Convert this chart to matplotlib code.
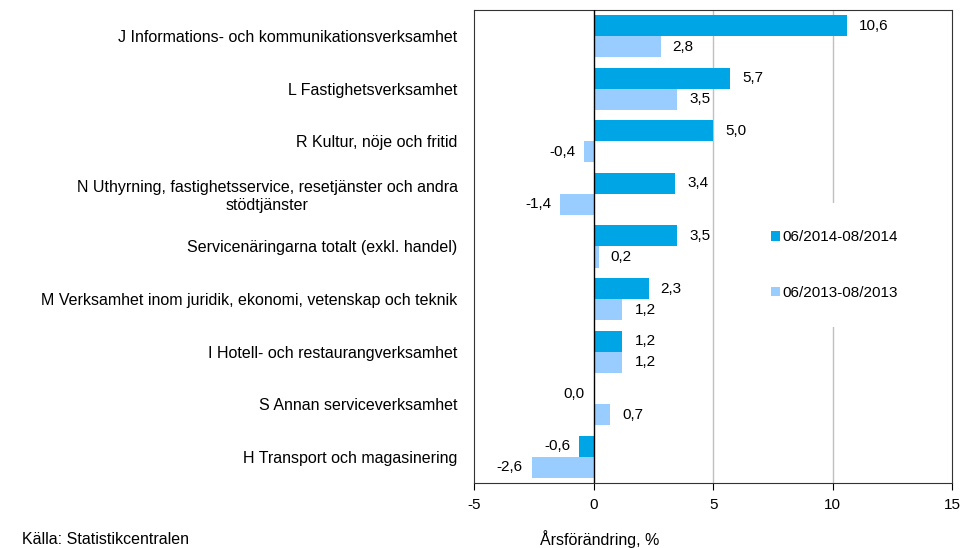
import matplotlib
matplotlib.use('Agg')
import matplotlib.pyplot as plt
import numpy as np

plt.rcParams['font.family'] = ['Liberation Sans', 'DejaVu Sans']

categories = [
    "J Informations- och kommunikationsverksamhet",
    "L Fastighetsverksamhet",
    "R Kultur, nöje och fritid",
    "N Uthyrning, fastighetsservice, resetjänster och andra\nstödtjänster",
    "Servicenäringarna totalt (exkl. handel)",
    "M Verksamhet inom juridik, ekonomi, vetenskap och teknik",
    "I Hotell- och restaurangverksamhet",
    "S Annan serviceverksamhet",
    "H Transport och magasinering",
]
series_names = ["06/2014-08/2014", "06/2013-08/2013"]
values_2014 = [10.6, 5.7, 5.0, 3.4, 3.5, 2.3, 1.2, 0.0, -0.6]
values_2013 = [2.8, 3.5, -0.4, -1.4, 0.2, 1.2, 1.2, 0.7, -2.6]

DARK = "#00a5e6"
LIGHT = "#99ccff"
FS = 11

fig = plt.figure(figsize=(9.6, 5.48), dpi=100)
ax = fig.add_axes([0.494, 0.1186, 0.498, 0.8632])

y = np.arange(len(categories))
h = 0.4
b1 = ax.barh(y - h / 2, values_2014, height=h, color=DARK, label=series_names[0], zorder=2)
b2 = ax.barh(y + h / 2, values_2013, height=h, color=LIGHT, label=series_names[1], zorder=2)

# value labels outside bar ends, decimal comma
for bars, vals in ((b1, values_2014), (b2, values_2013)):
    for bar, v in zip(bars, vals):
        yc = bar.get_y() + bar.get_height() / 2
        txt = f"{v:.1f}".replace(".", ",")
        if v > 0:
            ax.annotate(txt, (v, yc), xytext=(12, 0), textcoords="offset pixels",
                        ha="left", va="center", fontsize=FS)
        else:
            ax.annotate(txt, (v, yc), xytext=(-9, 0), textcoords="offset pixels",
                        ha="right", va="center", fontsize=FS)

ax.set_xlim(-5, 15)
ax.set_ylim(len(categories) - 0.5, -0.5)
ax.set_xticks([-5, 0, 5, 10, 15])
ax.set_xticklabels(["-5", "0", "5", "10", "15"], fontsize=FS)
ax.set_yticks(y)
ax.set_yticklabels(categories, fontsize=11.5, multialignment="center")
ax.tick_params(axis="y", length=0, pad=12)
ax.tick_params(axis="x", length=5, direction="out", pad=6)
for x in (5, 10):
    ax.axvline(x, color="#c0c0c0", linewidth=1, zorder=1)
ax.axvline(0, color="black", linewidth=1, zorder=3)
for s in ax.spines.values():
    s.set_color("#333333")

leg = ax.legend(loc="center left", bbox_to_anchor=(0.548, 0.461), frameon=True,
                facecolor="white", edgecolor="none", framealpha=1, fontsize=FS,
                handlelength=0.55, handleheight=0.55, handletextpad=0.15,
                labelspacing=2.7, borderpad=1.8)
leg.set_zorder(4)

fig.text(0.625, 0.0, "Årsförändring, %", ha="center", va="bottom", fontsize=11.5)
fig.text(0.023, 0.002, "Källa: Statistikcentralen", ha="left", va="bottom", fontsize=11.5)

plt.savefig("out.png", dpi=100)
